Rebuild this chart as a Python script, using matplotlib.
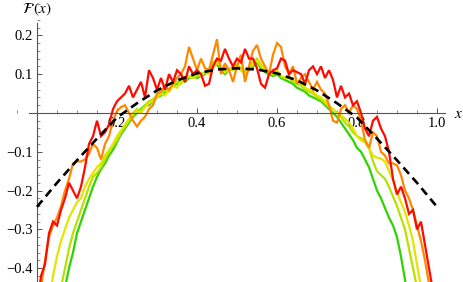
import numpy as np
import matplotlib
matplotlib.use('Agg')
import matplotlib.pyplot as plt
from matplotlib.ticker import MultipleLocator, FixedLocator

plt.rcParams['mathtext.fontset'] = 'stix'
plt.rcParams['font.family'] = ['Liberation Serif', 'DejaVu Serif']
plt.rcParams['axes.unicode_minus'] = True

# sample grid for the noisy curves (step 0.01)
x_grid = np.round(np.arange(0, 1.001, 0.01), 2)

# red curve (widest)
red = [-0.50, -0.42, -0.39, -0.31, -0.28, -0.29, -0.25, -0.22, -0.18, -0.20,
       -0.22, -0.19, -0.14, -0.08, -0.06, -0.02, -0.06, -0.05, -0.03, 0.01,
       0.03, 0.04, 0.05, 0.07, 0.04, 0.06, 0.08, 0.04, 0.11, 0.09,
       0.06, 0.09, 0.06, 0.10, 0.08, 0.11, 0.10, 0.08, 0.12, 0.10,
       0.11, 0.10, 0.07, 0.075, 0.12, 0.14, 0.135, 0.165, 0.14, 0.12,
       0.14, 0.13, 0.165, 0.14, 0.14, 0.115, 0.075, 0.065, 0.10, 0.11,
       0.115, 0.14, 0.135, 0.10, 0.11, 0.105, 0.10, 0.075, 0.11, 0.12,
       0.10, 0.12, 0.09, 0.11, 0.085, 0.04, 0.07, 0.04, 0.05, 0.02,
       0.03, 0.00, -0.04, -0.06, -0.02, -0.01, -0.04, -0.06, -0.10, -0.17,
       -0.21, -0.19, -0.22, -0.26, -0.25, -0.30, -0.28, -0.34, -0.40, -0.46,
       -0.55]

# orange curve
orange = [-0.55, -0.45, -0.38, -0.32, -0.29, -0.27, -0.24, -0.20, -0.17, -0.13,
          -0.125, -0.125, -0.12, -0.105, -0.08, -0.09, -0.12, -0.08, -0.06, -0.02,
          0.005, 0.015, 0.02, 0.00, -0.02, -0.035, -0.02, -0.01, 0.01, 0.02,
          0.05, 0.055, 0.07, 0.06, 0.075, 0.09, 0.10, 0.12, 0.17, 0.14,
          0.11, 0.14, 0.115, 0.11, 0.15, 0.19, 0.10, 0.128, 0.11, 0.08,
          0.12, 0.15, 0.08, 0.12, 0.16, 0.175, 0.14, 0.12, 0.10, 0.15,
          0.18, 0.17, 0.12, 0.10, 0.12, 0.075, 0.09, 0.10, 0.08, 0.06,
          0.08, 0.06, 0.05, 0.02, -0.02, -0.025, 0.01, 0.02, 0.00, 0.02,
          0.01, -0.02, -0.07, -0.09, -0.05, -0.06, -0.10, -0.11, -0.13, -0.13,
          -0.135, -0.16, -0.20, -0.22, -0.25, -0.29, -0.33, -0.38, -0.44, -0.50,
          -0.56]

# yellow curve
yellow = [-0.80, -0.68, -0.58, -0.50, -0.42, -0.37, -0.33, -0.30, -0.27, -0.25,
          -0.23, -0.22, -0.19, -0.17, -0.155, -0.14, -0.13, -0.11, -0.095, -0.08,
          -0.06, -0.045, -0.03, -0.015, -0.005, 0.005, 0.00, 0.015, 0.025, 0.03,
          0.04, 0.05, 0.045, 0.06, 0.07, 0.065, 0.08, 0.085, 0.095, 0.09,
          0.10, 0.095, 0.105, 0.10, 0.115, 0.13, 0.12, 0.105, 0.115, 0.11,
          0.12, 0.11, 0.10, 0.115, 0.125, 0.135, 0.12, 0.11, 0.105, 0.10,
          0.11, 0.095, 0.09, 0.095, 0.085, 0.08, 0.075, 0.065, 0.06, 0.055,
          0.045, 0.04, 0.03, 0.02, 0.01, 0.00, -0.005, -0.015, -0.025, -0.04,
          -0.06, -0.07, -0.076, -0.09, -0.11, -0.115, -0.118, -0.125, -0.15, -0.173,
          -0.205, -0.23, -0.255, -0.29, -0.33, -0.39, -0.45, -0.52, -0.62, -0.72,
          -0.85]

# yellow-green curve
ygreen = [-0.95, -0.85, -0.76, -0.67, -0.58, -0.51, -0.45, -0.40, -0.35, -0.31,
          -0.28, -0.25, -0.22, -0.19, -0.165, -0.155, -0.14, -0.12, -0.10, -0.085,
          -0.07, -0.05, -0.035, -0.02, 0.00, 0.01, 0.005, 0.02, 0.03, 0.035,
          0.045, 0.05, 0.06, 0.055, 0.07, 0.08, 0.075, 0.09, 0.095, 0.09,
          0.095, 0.10, 0.105, 0.115, 0.13, 0.135, 0.115, 0.105, 0.11, 0.12,
          0.125, 0.115, 0.105, 0.115, 0.13, 0.14, 0.125, 0.11, 0.105, 0.10,
          0.105, 0.095, 0.09, 0.09, 0.08, 0.075, 0.07, 0.06, 0.055, 0.05,
          0.04, 0.035, 0.025, 0.015, 0.01, 0.00, -0.01, -0.025, -0.035, -0.05,
          -0.06, -0.065, -0.07, -0.09, -0.125, -0.15, -0.16, -0.17, -0.19, -0.215,
          -0.24, -0.27, -0.30, -0.35, -0.40, -0.45, -0.52, -0.60, -0.70, -0.80,
          -0.92]

# green curve (narrowest)
green = [-1.00, -0.92, -0.84, -0.76, -0.68, -0.60, -0.52, -0.45, -0.40, -0.36,
         -0.31, -0.28, -0.25, -0.22, -0.19, -0.165, -0.145, -0.13, -0.11, -0.095,
         -0.075, -0.055, -0.04, -0.025, -0.01, 0.00, 0.01, 0.02, 0.02, 0.03,
         0.04, 0.045, 0.055, 0.06, 0.07, 0.075, 0.085, 0.08, 0.09, 0.095,
         0.09, 0.095, 0.10, 0.11, 0.12, 0.125, 0.11, 0.10, 0.11, 0.115,
         0.12, 0.11, 0.105, 0.11, 0.12, 0.13, 0.115, 0.105, 0.10, 0.095,
         0.10, 0.09, 0.085, 0.08, 0.075, 0.065, 0.06, 0.055, 0.045, 0.04,
         0.035, 0.03, 0.02, 0.01, 0.00, -0.01, -0.025, -0.04, -0.055, -0.07,
         -0.09, -0.10, -0.12, -0.14, -0.17, -0.20, -0.22, -0.245, -0.27, -0.29,
         -0.32, -0.37, -0.43, -0.50, -0.58, -0.66, -0.74, -0.82, -0.90, -0.98,
         -1.06]

# dashed reference curve
dash_x = [0.00, 0.05, 0.10, 0.15, 0.20, 0.25, 0.30, 0.35, 0.40, 0.45, 0.50,
          0.55, 0.60, 0.65, 0.70, 0.75, 0.80, 0.85, 0.90, 0.95, 1.00]
dash_y = [-0.242, -0.180, -0.122, -0.066, -0.012, 0.025, 0.058, 0.084, 0.102, 0.112, 0.115,
          0.112, 0.102, 0.084, 0.058, 0.025, -0.012, -0.066, -0.122, -0.180, -0.242]

curves = [(green, '#2ed400'), (ygreen, '#b8e000'), (yellow, '#e4e400'),
          (orange, '#ff8800'), (red, '#ff0a00')]

fig = plt.figure(figsize=(4.63, 2.82), dpi=100)
ax = fig.add_axes([0, 0, 1, 1])

for ys, col in curves:
    ax.plot(x_grid, ys, color=col, lw=1.6, solid_joinstyle='miter')

ax.plot(dash_x, dash_y, color='black', lw=1.9, linestyle=(0, (3.2, 2.0)), zorder=5)

# axes through the origin, Mathematica style
ax.set_xlim(-0.0925, 1.065)
ax.set_ylim(-0.4356, 0.291)
for s in ['top', 'right']:
    ax.spines[s].set_visible(False)
ax.spines['left'].set_position(('data', 0))
ax.spines['bottom'].set_position(('data', 0))
ax.spines['left'].set_bounds(-0.4356, 0.232)
ax.spines['bottom'].set_bounds(-0.02, 1.02)
for s in ['left', 'bottom']:
    ax.spines[s].set_color('#555555')
    ax.spines[s].set_linewidth(0.8)
ax.patch.set_visible(False)

ax.xaxis.set_major_locator(FixedLocator([0.2, 0.4, 0.6, 0.8, 1.0]))
ax.xaxis.set_minor_locator(MultipleLocator(0.05))
ax.yaxis.set_major_locator(FixedLocator([-0.4, -0.3, -0.2, -0.1, 0.1, 0.2]))
ax.yaxis.set_minor_locator(MultipleLocator(0.02))
ax.set_xticklabels(['0.2', '0.4', '0.6', '0.8', '1.0'])
ax.set_yticklabels(['\u22120.4', '\u22120.3', '\u22120.2', '\u22120.1', '0.1', '0.2'])

ax.tick_params(which='major', direction='in', length=3.6, width=0.7, color='#555555',
               labelsize=10.5, pad=3)
ax.tick_params(which='minor', direction='in', length=2.0, width=0.6, color='#777777')

# axis labels
ax.text(0, 0.266, r'$\mathcal{F}\,(x)$', ha='center', va='center', fontsize=11)
ax.text(1.055, -0.003, r'$x$', ha='center', va='center', fontsize=11)

fig.savefig('out.png', dpi=100)
